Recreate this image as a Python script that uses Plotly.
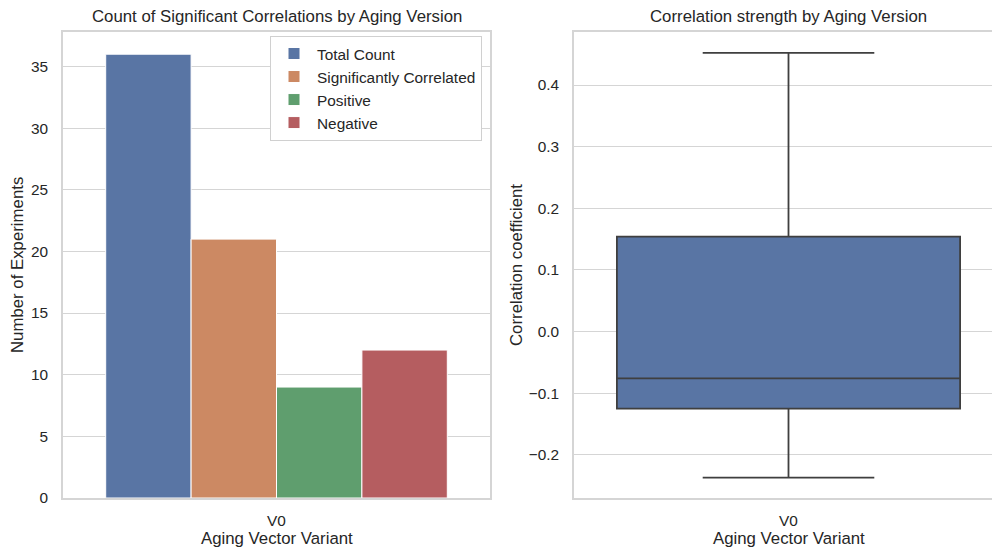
import plotly.graph_objects as go

# Counts of experiments per aging vector variant
variants = ["V0"]
count_labels = ["Total Count", "Significantly Correlated", "Positive", "Negative"]
count_values = [36, 21, 9, 12]
bar_colors = ["#5975a4", "#cc8963", "#5f9e6e", "#b55d60"]

# Summary statistics of the correlation coefficients for V0
corr_q1 = [-0.125]
corr_median = [-0.076]
corr_q3 = [0.154]
corr_low = [-0.237]
corr_high = [0.452]

W, H = 992, 550
TEXT = "#262626"
GRID = "#d5d5d5"
FONT = "Liberation Sans, Arial, sans-serif"
TICK_SIZE = 15.4
LABEL_SIZE = 16.8

fig = go.Figure()

for name, val, col in zip(count_labels, count_values, bar_colors):
    fig.add_trace(go.Bar(
        x=variants, y=[val], name=name,
        marker=dict(color=col, line=dict(color="white", width=1)),
        xaxis="x", yaxis="y",
    ))

fig.add_trace(go.Box(
    x=variants, q1=corr_q1, median=corr_median, q3=corr_q3,
    lowerfence=corr_low, upperfence=corr_high,
    fillcolor="#5975a4", line=dict(color="#3f3f3f", width=1.8),
    width=0.8, whiskerwidth=0.5, boxpoints=False, showlegend=False,
    xaxis="x2", yaxis="y2",
))

# axis geometry in pixels
L1, R1 = 63, 490
L2 = 574
R2_full = 1003  # right edge of the second axes (beyond the canvas)
TOP, BOT = 32, 498
ydom = [1 - BOT / H, 1 - TOP / H]
x2_right = -0.5 + (W - L2) / (R2_full - L2)

axis_common = dict(
    zeroline=False, automargin=False,
    showline=True, linecolor=GRID, linewidth=1.5, ticks="",
    tickfont=dict(size=TICK_SIZE, color=TEXT, family=FONT),
)
xaxis_style = dict(showgrid=False, ticklabelstandoff=8, **axis_common)
yaxis_style = dict(showgrid=True, gridcolor=GRID, gridwidth=1,
                   ticklabelstandoff=10, **axis_common)


def px(x, y):
    return x / W, 1 - y / H


def label(text, x, y, size, angle=0):
    ax, ay = px(x, y)
    return dict(text=text, x=ax, y=ay, xref="paper", yref="paper",
                xanchor="center", yanchor="middle", showarrow=False,
                textangle=angle, font=dict(size=size, color=TEXT, family=FONT))


fig.update_layout(
    width=W, height=H,
    margin=dict(l=0, r=0, t=0, b=0),
    paper_bgcolor="white", plot_bgcolor="white",
    font=dict(family=FONT, color=TEXT),
    barmode="group", bargap=0.2, bargroupgap=0,
    xaxis=dict(domain=[L1 / W, R1 / W], range=[-0.5, 0.5], mirror=True,
               anchor="y", **xaxis_style),
    yaxis=dict(domain=ydom, range=[0, 37.8], dtick=5, mirror=True,
               anchor="x", **yaxis_style),
    xaxis2=dict(domain=[L2 / W, 1], range=[-0.5, x2_right], mirror=True,
                anchor="y2", **xaxis_style),
    yaxis2=dict(domain=ydom, range=[-0.27, 0.486], dtick=0.1, tick0=0,
                tickformat=".1f", anchor="x2", **yaxis_style),
    legend=dict(x=482 / W, xanchor="right", y=1 - 36 / H, yanchor="top",
                bgcolor="white", bordercolor="#d0d0d0", borderwidth=1,
                font=dict(size=TICK_SIZE, color=TEXT, family=FONT),
                tracegroupgap=0, itemwidth=36),
    showlegend=True,
    annotations=[
        label("Count of Significant Correlations by Aging Version", (L1 + R1) / 2, 17, LABEL_SIZE),
        label("Correlation strength by Aging Version", (L2 + R2_full) / 2, 17, LABEL_SIZE),
        label("Aging Vector Variant", (L1 + R1) / 2, 538, LABEL_SIZE),
        label("Aging Vector Variant", (L2 + R2_full) / 2, 538, LABEL_SIZE),
        label("Number of Experiments", 17, 265, LABEL_SIZE, -90),
        label("Correlation coefficient", 516, 265, LABEL_SIZE, -90),
    ],
)

fig.write_html("out.html")
